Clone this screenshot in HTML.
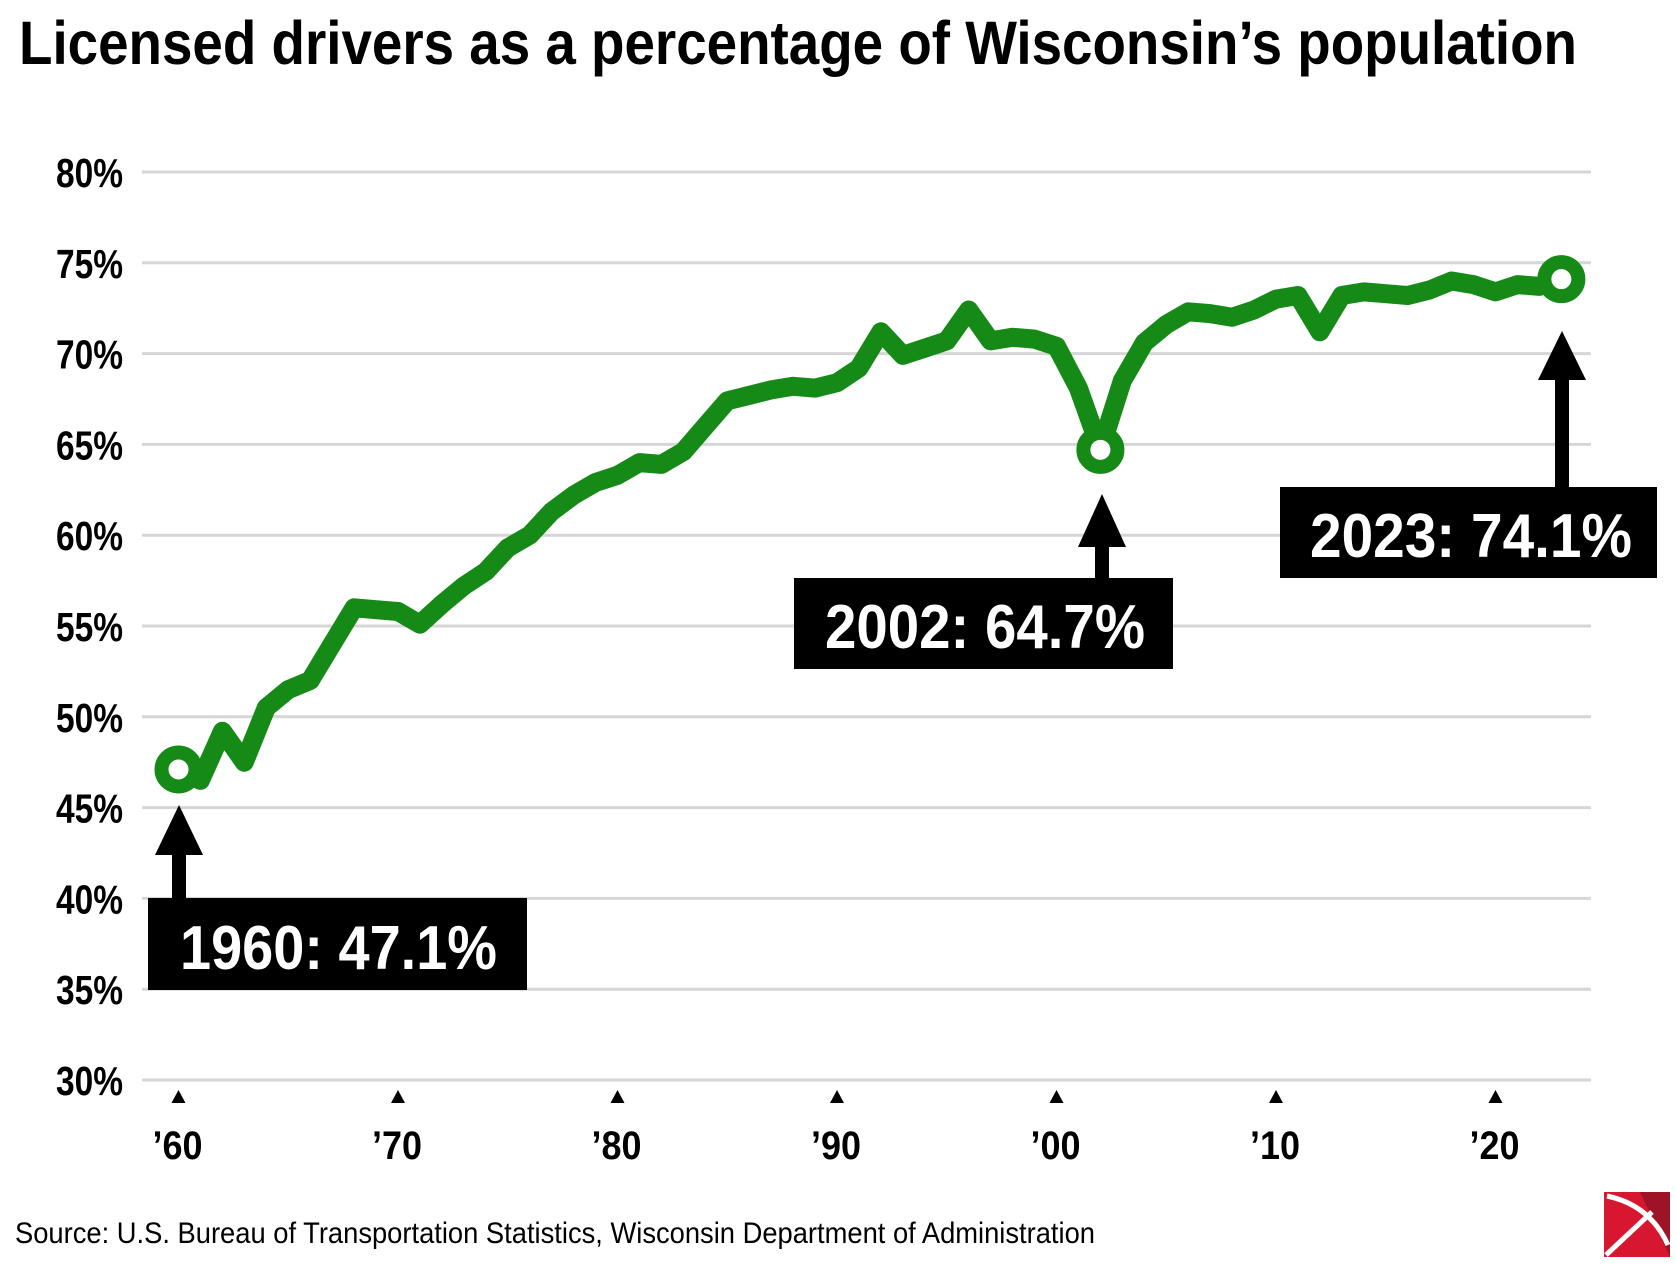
<!DOCTYPE html>
<html><head><meta charset="utf-8"><style>
html,body{margin:0;padding:0;background:#fff;}
body{width:1676px;height:1263px;overflow:hidden;}
svg text{font-family:"Liberation Sans Narrow","Liberation Sans",sans-serif;}
</style></head><body>
<svg id="c" width="1676" height="1263" viewBox="0 0 1676 1263" xmlns="http://www.w3.org/2000/svg">
<text x="19" y="64" font-size="61" font-weight="bold" fill="#000" textLength="1558" lengthAdjust="spacingAndGlyphs">Licensed drivers as a percentage of Wisconsin’s population</text>
<g id="grid"></g>
<g id="ticks"></g>
<polyline id="line" fill="none" stroke="#168a17" stroke-width="19" stroke-linejoin="round" stroke-linecap="round"/>
<g id="dots"></g>
<g fill="#000">
<rect x="172" y="850" width="14" height="50"/><polygon points="155,855 203,855 179,805"/>
<rect x="1095" y="540" width="14" height="40"/><polygon points="1078,547 1126,547 1102,494"/>
<rect x="1555" y="375" width="14" height="114"/><polygon points="1538,380 1586,380 1562,331"/>
<rect x="148" y="898" width="379" height="92"/>
<rect x="794" y="578" width="379" height="91"/>
<rect x="1280" y="487" width="377" height="91"/>
</g>
<g fill="#fff" font-size="62" font-weight="bold">
<text x="180" y="969" textLength="317" lengthAdjust="spacingAndGlyphs">1960: 47.1%</text>
<text x="825" y="648" textLength="320" lengthAdjust="spacingAndGlyphs">2002: 64.7%</text>
<text x="1310" y="557" textLength="322" lengthAdjust="spacingAndGlyphs">2023: 74.1%</text>
</g>
<text x="15" y="1243" font-size="30" fill="#000" textLength="1080" lengthAdjust="spacingAndGlyphs">Source: U.S. Bureau of Transportation Statistics, Wisconsin Department of Administration</text>
<g>
<rect x="1604" y="1192" width="66" height="65" fill="#d7172f"/>
<polygon points="1670,1192 1670,1257 1640,1192" fill="#9e1426"/>
<path d="M1607,1196 Q1650,1205 1668,1245" stroke="#fff" stroke-width="5" fill="none"/>
<line x1="1606" y1="1255" x2="1652" y2="1212" stroke="#fff" stroke-width="5"/>
</g>
</svg>
<script>
var ns="http://www.w3.org/2000/svg";
function el(t,a,p,txt){var e=document.createElementNS(ns,t);for(var k in a)e.setAttribute(k,a[k]);if(txt)e.textContent=txt;document.getElementById(p).appendChild(e);return e;}
function Y(v){return 172+(80-v)*18.16;}
function X(yr){return 178.5+(yr-1960)*21.95;}
for(var v=30;v<=80;v+=5){
 el("line",{x1:142,x2:1591,y1:Y(v),y2:Y(v),stroke:"#d6d6d6","stroke-width":3},"grid");
 el("text",{x:56,y:Y(v)+15,"font-size":41,"font-weight":"bold",fill:"#000",textLength:67,lengthAdjust:"spacingAndGlyphs"},"grid",v+"%");
}
var labs=["’60","’70","’80","’90","’00","’10","’20"];
for(var i=0;i<7;i++){var x=X(1960+i*10);
 el("polygon",{points:(x-7)+",1103 "+(x+7)+",1103 "+x+",1090",fill:"#000"},"ticks");
 el("text",{x:x-26,y:1159,"font-size":40,"font-weight":"bold",fill:"#000",textLength:50,lengthAdjust:"spacingAndGlyphs"},"ticks",labs[i]);
}
var d=[47.1,46.5,49.2,47.5,50.5,51.5,52,54,56,55.9,55.8,55.1,56.2,57.2,58,59.3,60,61.3,62.2,62.9,63.3,64,63.9,64.6,66,67.4,67.7,68,68.2,68.1,68.4,69.2,71.2,69.9,70.3,70.7,72.4,70.7,70.9,70.8,70.4,68.1,64.7,68.5,70.6,71.6,72.3,72.2,72,72.4,73,73.2,71.2,73.2,73.4,73.3,73.2,73.5,74,73.8,73.4,73.8,73.7,74.1];
var pts=d.map(function(v,i){return X(1960+i).toFixed(1)+","+Y(v).toFixed(1);}).join(" ");
document.getElementById("line").setAttribute("points",pts);
[[1960,47.1],[2002,64.7],[2023,74.1]].forEach(function(p){
 el("circle",{cx:X(p[0]),cy:Y(p[1]),r:17,fill:"#fff",stroke:"#168a17","stroke-width":14},"dots");
});
</script>
</body></html>
